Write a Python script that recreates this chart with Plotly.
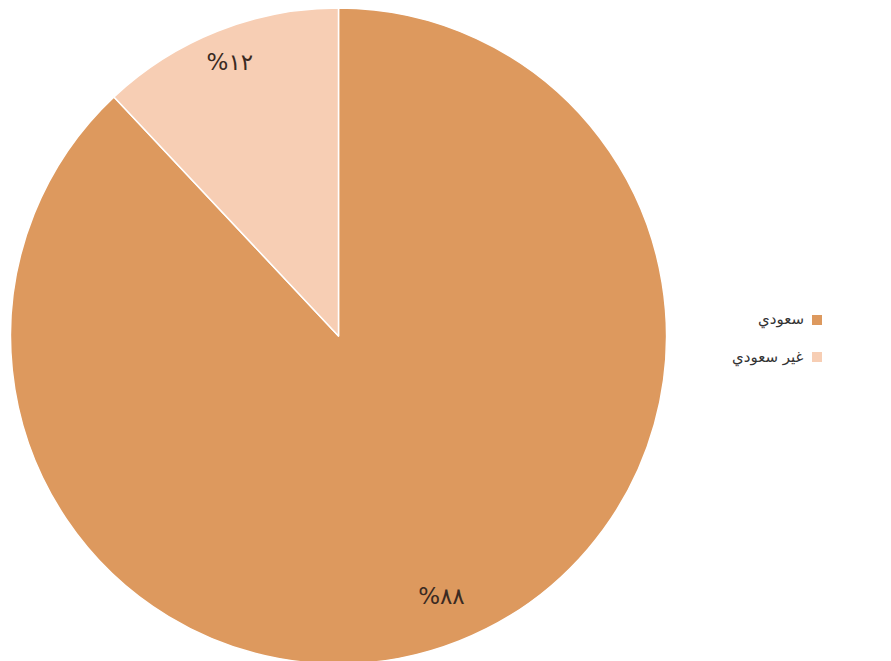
import plotly.graph_objects as go

W, H = 891, 661
OFF = 8  # page offset of the plot div

categories = ["سعودي", "غير سعودي"]
values = [88, 12]
pct_labels = ["%٨٨", "%١٢"]
colors = ["#DD995E", "#F7CEB4"]

dom = dict(x=[2 / W, 659 / W], y=[1 - 656 / H, 1])

fig = go.Figure()
fig.add_trace(go.Pie(
    labels=categories,
    values=values,
    textinfo="none",
    sort=False,
    direction="clockwise",
    rotation=0,
    marker=dict(colors=colors, line=dict(color="white", width=1.5)),
    domain=dom,
    showlegend=False,
    hoverinfo="label+percent",
))
fig.add_trace(go.Pie(
    labels=categories,
    values=values,
    text=pct_labels,
    textinfo="text",
    textposition="inside",
    insidetextorientation="horizontal",
    hole=0.79,
    pull=[0, 0.05],
    sort=False,
    direction="clockwise",
    rotation=0,
    marker=dict(colors=["rgba(0,0,0,0)"] * 2, line=dict(width=0)),
    textfont=dict(family="DejaVu Sans", size=23, color="#3a2a22"),
    domain=dom,
    showlegend=False,
    hoverinfo="skip",
))

shapes = []
annotations = []
row_y = [320 - OFF, 357 - OFF]
for i, (cat, col) in enumerate(zip(categories, colors)):
    y = row_y[i]
    shapes.append(dict(type="rect", xref="paper", yref="paper",
                       x0=(812 - OFF) / W, x1=(822 - OFF) / W,
                       y0=1 - (y + 5) / H, y1=1 - (y - 5) / H,
                       fillcolor=col, line=dict(width=0)))
    annotations.append(dict(text=cat, xref="paper", yref="paper",
                            x=(806 - OFF) / W, y=1 - y / H, xanchor="right", yanchor="middle",
                            showarrow=False,
                            font=dict(family="DejaVu Sans", size=15, color="#333333")))

fig.update_layout(
    width=W, height=H,
    margin=dict(l=0, r=0, t=0, b=0),
    paper_bgcolor="white",
    plot_bgcolor="white",
    shapes=shapes,
    annotations=annotations,
)

fig.write_html("out.html")
